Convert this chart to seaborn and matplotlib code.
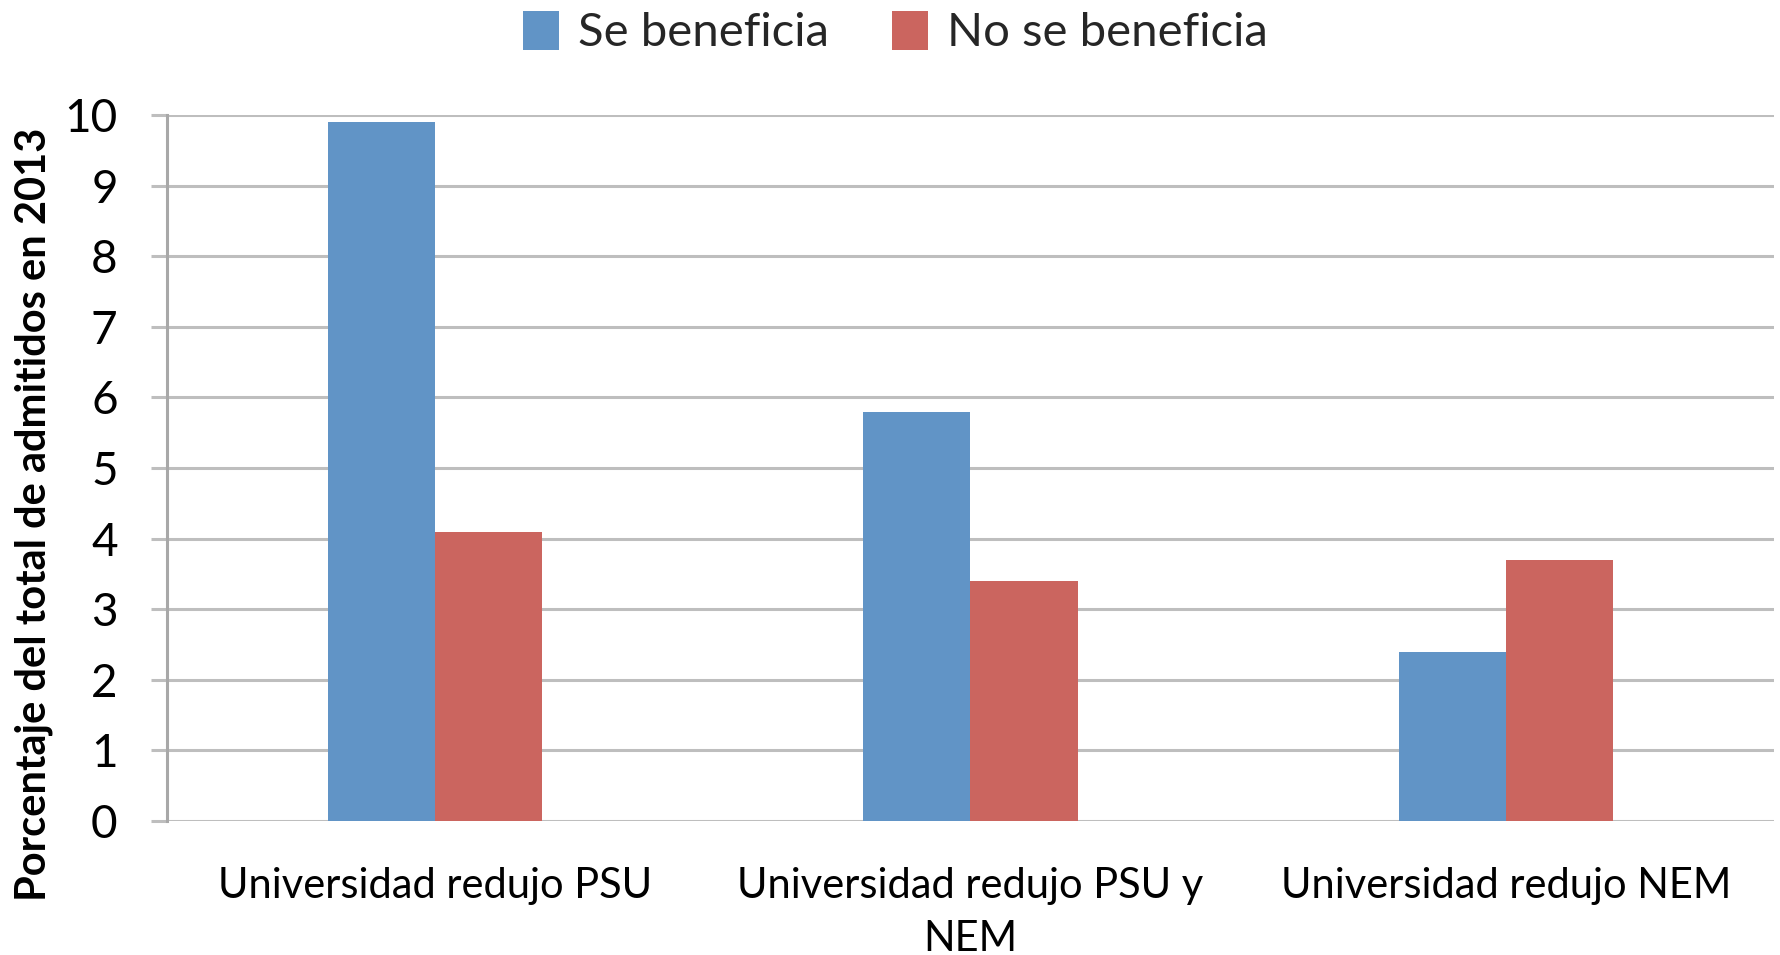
import matplotlib
matplotlib.use("Agg")
import matplotlib.pyplot as plt
import seaborn as sns
import pandas as pd
from matplotlib.patches import Patch

categories = ["Universidad redujo PSU", "Universidad redujo PSU y\nNEM", "Universidad redujo NEM"]
series_names = ["Se beneficia", "No se beneficia"]
se_beneficia = [9.9, 5.8, 2.4]
no_se_beneficia = [4.1, 3.4, 3.7]
yticks = [0, 1, 2, 3, 4, 5, 6, 7, 8, 9, 10]
ylabel = "Porcentaje del total de admitidos en 2013"
colors = ["#6194C6", "#CB655F"]

df = pd.DataFrame({
    "cat": categories * 2,
    "serie": [series_names[0]] * 3 + [series_names[1]] * 3,
    "val": se_beneficia + no_se_beneficia,
})

sns.set_theme(style="white")
plt.rcParams["font.family"] = ["Lato", "DejaVu Sans"]

fig = plt.figure(figsize=(17.8, 9.55), dpi=100)
ax = fig.add_axes([0.0938, 0.1403, 0.9028, 0.7393])

sns.barplot(data=df, x="cat", y="val", hue="serie", palette=colors,
            width=0.4, ax=ax, legend=False, saturation=1, edgecolor="none")

ax.set_ylim(0, 10)
ax.set_xlim(-0.5, 2.5)
ax.set_yticks(yticks)
ax.yaxis.grid(True, color="#BEBEBE", linewidth=2.2)
ax.set_axisbelow(True)
for s in ["top", "right", "bottom"]:
    ax.spines[s].set_visible(False)
ax.spines["left"].set_color("#A8A8A8")
ax.spines["left"].set_linewidth(2.2)

ax.tick_params(axis="y", which="both", left=True, length=11.5, width=2.2,
               color="#BEBEBE", pad=24, labelsize=33, labelcolor="black")
ax.tick_params(axis="x", length=0, pad=33, labelsize=30, labelcolor="black")
for lbl in ax.get_xticklabels():
    lbl.set_linespacing(1.5)
ax.set_xlabel("")
ax.set_ylabel(ylabel, fontsize=30, fontweight="bold", color="black")
ax.yaxis.set_label_coords(-0.071, 0.435)

handles = [Patch(facecolor=c, edgecolor="none") for c in colors]
fig.legend(handles, series_names, loc="center", bbox_to_anchor=(0.503, 0.966),
           ncol=2, frameon=False, fontsize=34, handlelength=0.75, handleheight=0.9,
           handletextpad=0.4, columnspacing=1.35)

fig.savefig("out.png", dpi=100, facecolor="white")
